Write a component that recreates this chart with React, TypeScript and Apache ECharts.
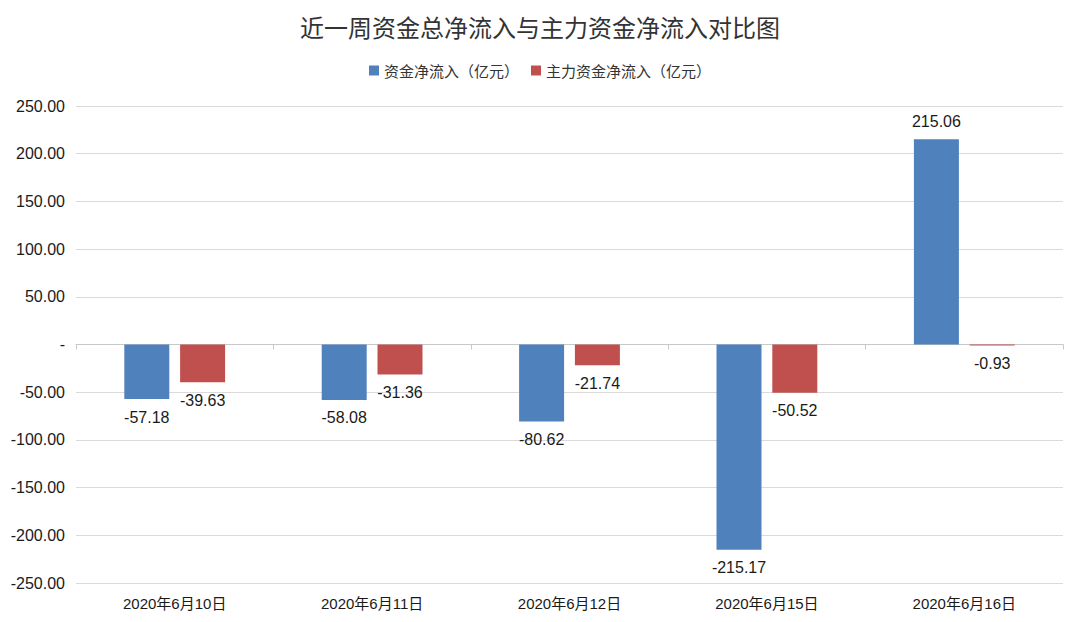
import React, { useEffect, useRef } from "react";
import * as echarts from "echarts";

const categories = ["2020年6月10日", "2020年6月11日", "2020年6月12日", "2020年6月15日", "2020年6月16日"];
const totalNetInflow = [-57.18, -58.08, -80.62, -215.17, 215.06];
const mainNetInflow = [-39.63, -31.36, -21.74, -50.52, -0.93];
const seriesNames = ["资金净流入（亿元）", "主力资金净流入（亿元）"];
const titleText = "近一周资金总净流入与主力资金净流入对比图";

const FONT = "'Liberation Sans', 'Noto Sans CJK SC', sans-serif";

export default function App() {
  const ref = useRef<HTMLDivElement>(null);
  useEffect(() => {
    if (!ref.current) return;
    const chart = echarts.init(ref.current, undefined, { renderer: "svg" });
    const toItems = (arr: number[]) =>
      arr.map((v) => ({ value: v, label: { position: v >= 0 ? "top" : "bottom" } }));
    const labelStyle = {
      show: true,
      distance: 10,
      fontSize: 16,
      color: "#1a1a1a",
      fontFamily: FONT,
      formatter: (p: any) => Number(p.value).toFixed(2),
    };
    chart.setOption({
      animation: false,
      backgroundColor: "#ffffff",
      title: {
        text: titleText,
        left: "center",
        top: 9,
        textStyle: { fontSize: 24, fontWeight: "normal", color: "#333", fontFamily: "'Noto Sans CJK SC', sans-serif" },
      },
      legend: {
        top: 58,
        left: "center",
        itemWidth: 10,
        itemHeight: 10,
        itemGap: 12,
        icon: "rect",
        textStyle: { fontSize: 15, color: "#333", fontFamily: "'Noto Sans CJK SC', sans-serif" },
        data: seriesNames,
      },
      grid: { left: 76, right: 17, top: 106, bottom: 39, containLabel: false },
      xAxis: [
        {
          type: "category",
          data: categories,
          axisLine: { onZero: true, lineStyle: { color: "#c8c8c8", width: 1 } },
          axisTick: { show: true, length: 5, lineStyle: { color: "#c8c8c8" } },
          axisLabel: { show: false },
          splitLine: { show: false },
        },
        {
          type: "category",
          data: categories,
          position: "bottom",
          axisLine: { show: false, onZero: false },
          axisTick: { show: false },
          axisLabel: { show: true, margin: 13, fontSize: 15, color: "#1a1a1a", fontFamily: FONT },
          splitLine: { show: false },
        },
      ],
      yAxis: {
        type: "value",
        min: -250,
        max: 250,
        interval: 50,
        axisLine: { show: false },
        axisTick: { show: false },
        axisLabel: {
          margin: 11,
          fontSize: 16,
          color: "#1a1a1a",
          fontFamily: FONT,
          formatter: (v: number) => (v === 0 ? "-" : v.toFixed(2)),
        },
        splitLine: { lineStyle: { color: "#dadada", width: 1 } },
      },
      series: [
        {
          name: seriesNames[0],
          type: "bar",
          xAxisIndex: 0,
          data: toItems(totalNetInflow),
          barWidth: 45,
          barGap: "24%",
          itemStyle: { color: "#4F81BD" },
          label: labelStyle,
        },
        {
          name: seriesNames[1],
          type: "bar",
          xAxisIndex: 0,
          data: toItems(mainNetInflow),
          barWidth: 45,
          barGap: "24%",
          itemStyle: { color: "#C0504D" },
          label: labelStyle,
        },
      ],
    });
    return () => chart.dispose();
  }, []);
  return (
    <div
      ref={ref}
      style={{ position: "absolute", left: 0, top: 0, width: 1080, height: 622 }}
    />
  );
}
